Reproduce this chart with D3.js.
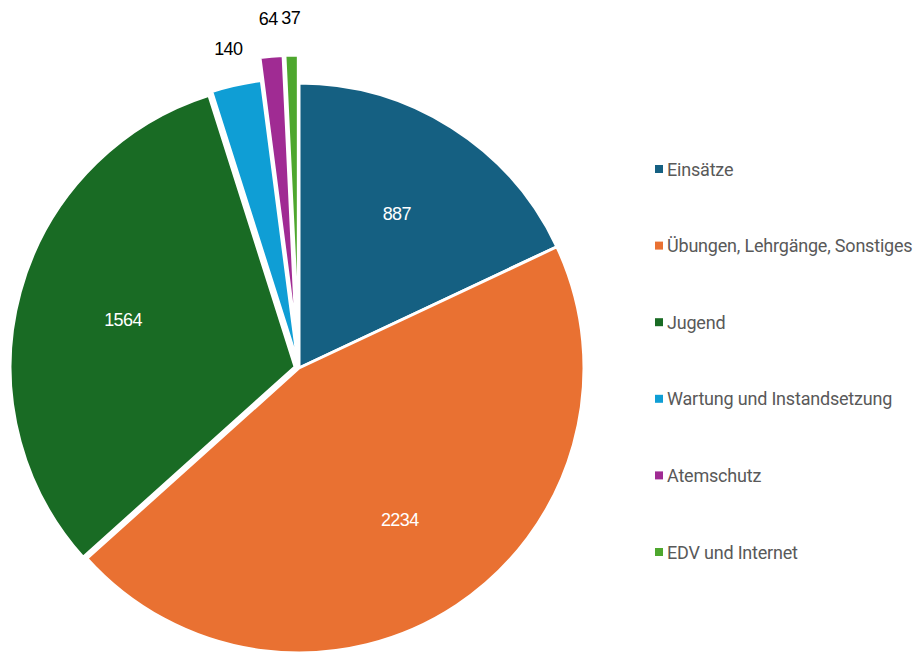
<!DOCTYPE html>
<html>
<head>
<meta charset="utf-8">
<script src="https://cdn.jsdelivr.net/npm/d3@7"></script>
<style>
  body { margin: 0; background: #fff; }
  svg { display: block; }
  .slice-label { font-family: "Liberation Sans", Arial, sans-serif; font-size: 18px; letter-spacing: -0.6px; }
  .legend text { font-family: Roboto, "Noto Sans", sans-serif; font-size: 18px; fill: #595959; letter-spacing: -0.2px; }
</style>
</head>
<body>
<div id="chart"></div>
<script>
var categories = ["Einsätze", "Übungen, Lehrgänge, Sonstiges", "Jugend", "Wartung und Instandsetzung", "Atemschutz", "EDV und Internet"];
var values = [887, 2234, 1564, 140, 64, 37];
var colors = ["#156082", "#E97132", "#196B24", "#0F9ED5", "#A02B93", "#4EA72E"];
// how far each slice is pulled out of the pie (px)
var explode = [0, 0, 4, 5, 28, 28];

var width = 915, height = 652;
var cx = 299, cy = 368, radius = 285;

var svg = d3.select("#chart")
  .append("svg")
    .attr("width", width)
    .attr("height", height);

var data = categories.map(function(c, i) {
  return { name: c, value: values[i], color: colors[i], explode: explode[i] };
});

var pie = d3.pie()
    .sort(null)
    .value(function(d) { return d.value; });

var arc = d3.arc()
    .innerRadius(0)
    .outerRadius(radius);

var arcs = pie(data);

var g = svg.append("g")
    .attr("transform", "translate(" + cx + "," + cy + ")");

function midAngle(d) { return (d.startAngle + d.endAngle) / 2; }

// slices
g.selectAll("path.slice")
  .data(arcs)
  .enter()
  .append("path")
    .attr("class", "slice")
    .attr("d", arc)
    .attr("transform", function(d) {
      var a = midAngle(d), e = d.data.explode;
      return "translate(" + (Math.sin(a) * e) + "," + (-Math.cos(a) * e) + ")";
    })
    .attr("fill", function(d) { return d.data.color; })
    .attr("stroke", "#fff")
    .attr("stroke-width", 3)
    .attr("stroke-linejoin", "round");

// labels: big slices inside (white), small slices outside (black)
var total = d3.sum(values);
function labelRadius(d) {
  return d.value / total > 0.1 ? radius * 0.64 : radius + d.data.explode + 37;
}
g.selectAll("text.slice-label")
  .data(arcs)
  .enter()
  .append("text")
    .attr("class", "slice-label")
    .attr("text-anchor", "middle")
    .attr("dominant-baseline", "central")
    .attr("fill", function(d) { return d.value / total > 0.1 ? "#fff" : "#000"; })
    .attr("x", function(d) { return Math.sin(midAngle(d)) * labelRadius(d); })
    .attr("y", function(d) { return -Math.cos(midAngle(d)) * labelRadius(d); })
    .text(function(d) { return d.value; });

// legend
var legend = svg.append("g")
    .attr("class", "legend")
    .attr("transform", "translate(655,169)");

var item = legend.selectAll("g")
  .data(data)
  .enter()
  .append("g")
    .attr("transform", function(d, i) { return "translate(0," + (i * 76.6) + ")"; });

item.append("rect")
    .attr("x", 0)
    .attr("y", -4)
    .attr("width", 8)
    .attr("height", 8)
    .attr("fill", function(d) { return d.color; });

item.append("text")
    .attr("x", 12)
    .attr("y", 0)
    .attr("dominant-baseline", "central")
    .text(function(d) { return d.name; });
</script>
</body>
</html>
